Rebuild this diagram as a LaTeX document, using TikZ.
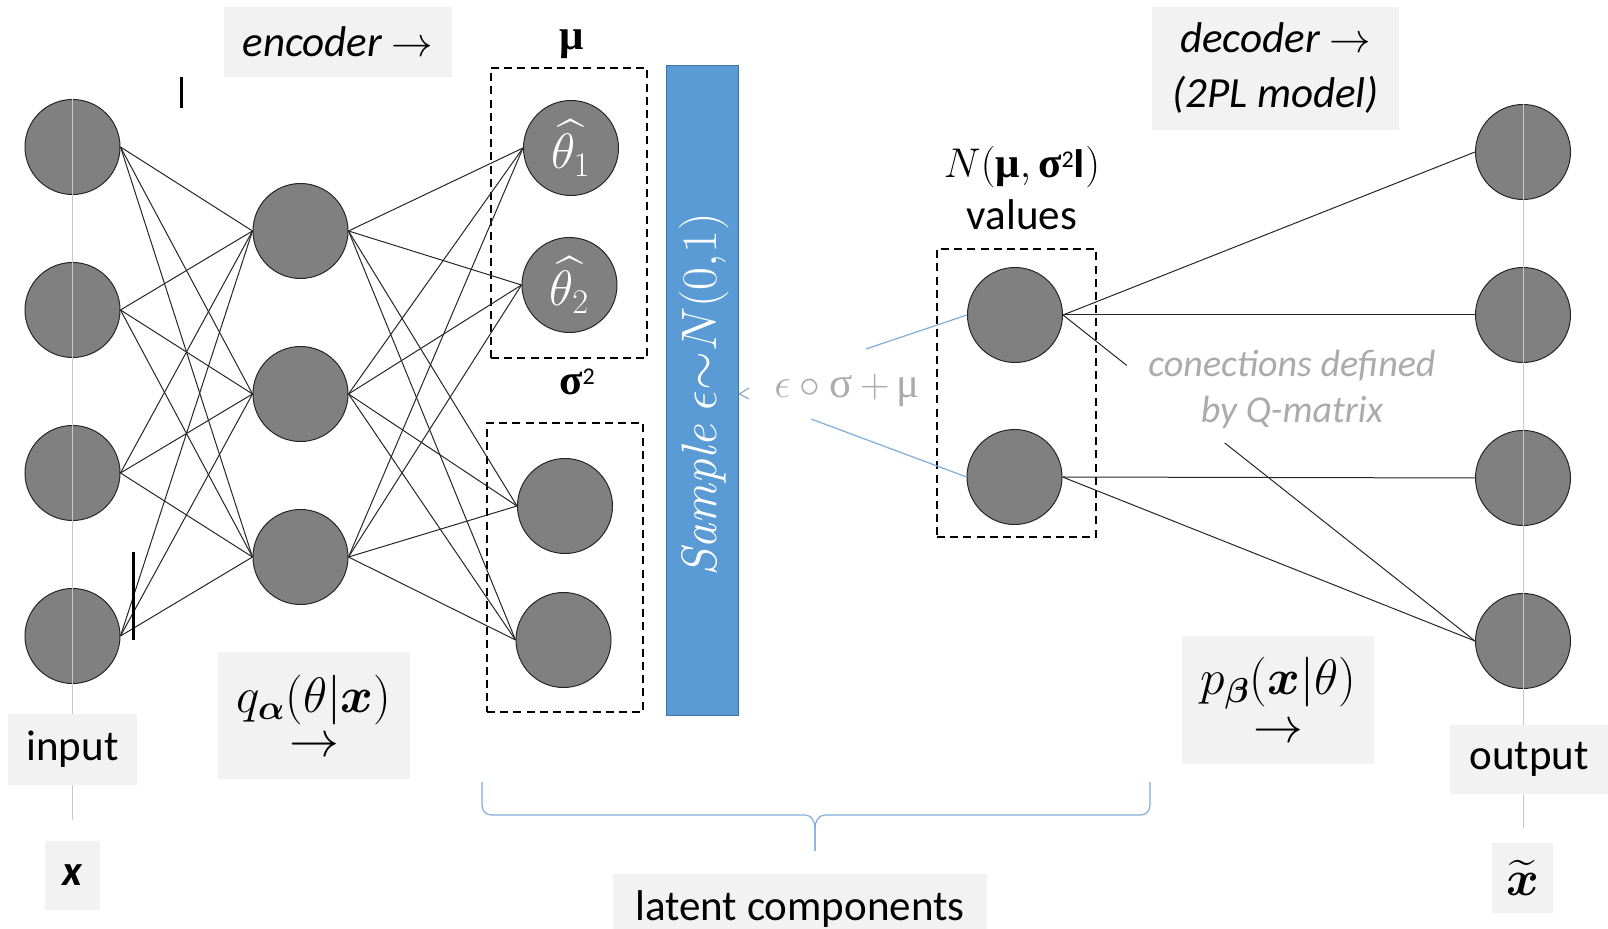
\documentclass[tikz,border=0pt]{standalone}
\usepackage{amsmath,amssymb}
\usepackage[no-math]{fontspec}
\setmainfont{Carlito}
\newfontfamily\symf{Liberation Serif}
\usetikzlibrary{arrows.meta,calc}
\definecolor{nodegray}{HTML}{808080}
\definecolor{boxgray}{HTML}{F2F2F2}
\definecolor{barblue}{HTML}{5B9BD5}
\definecolor{barborder}{HTML}{41719C}
\definecolor{guidecol}{HTML}{C8C8C8}
\definecolor{lblcol}{HTML}{ABABAB}
\definecolor{thinblue}{HTML}{7FAEDC}
\newcommand{\sqsup}{\raisebox{5pt}{\fontsize{12}{12}\selectfont 2}}
\tikzset{
  every node/.style={font=\fontsize{21.5}{26}\selectfont},
  neuron/.style={circle, fill=nodegray, draw=black!85, line width=0.5pt, minimum size=47.5pt, inner sep=0pt},
  link/.style={line width=0.5pt, draw=black!85},
  dbox/.style={draw=black, line width=1pt, dash pattern=on 4pt off 2.6pt, inner sep=0pt},
  lblbox/.style={fill=boxgray, inner sep=0pt, align=center},
  guideline/.style={draw=guidecol, line width=0.5pt},
  bluelink/.style={draw=thinblue, line width=0.6pt},
  marker/.style={line width=1.5pt, draw=black},
}
\begin{document}
\begin{tikzpicture}[x=0.5pt,y=-0.5pt]
\useasboundingbox (0,0) rectangle (1608,929);

% dashed boxes
\node[dbox, minimum width=78pt, minimum height=145pt] (mubox) at (569,213) {};
\node[dbox, minimum width=78pt, minimum height=144.5pt] (sigbox) at (565,567.5) {};
\node[dbox, minimum width=79.5pt, minimum height=144pt] (zbox) at (1016.5,393) {};

% neurons
\foreach \n/\y in {in1/147,in2/310,in3/473,in4/636}
  \node[neuron] (\n) at (72.5,\y) {};
\foreach \n/\y in {h1/231,h2/394,h3/557}
  \node[neuron] (\n) at (300.5,\y) {};
\node[neuron, text=white, font=\fontsize{24}{26}\selectfont] (m1) at (571,148) {$\widehat{\theta_1}$};
\node[neuron, text=white, font=\fontsize{24}{26}\selectfont] (m2) at (569.5,285) {$\widehat{\theta_2}$};
\node[neuron] (s1) at (565,506) {};
\node[neuron] (s2) at (563.5,640) {};
\node[neuron] (z1) at (1015,315) {};
\node[neuron] (z2) at (1014.5,477) {};
\foreach \n/\y in {o1/152,o2/315,o3/478,o4/641}
  \node[neuron] (\n) at (1523,\y) {};

% encoder links
\foreach \a in {in1,in2,in3,in4}
  \foreach \b in {h1,h2,h3}
    \draw[link] (\a.east) -- (\b.west);
\foreach \a in {h1,h2,h3}
  \foreach \b in {m1,m2,s1,s2}
    \draw[link] (\a.east) -- (\b.west);

% decoder links
\draw[link] (z1.east) -- (o1.west);
\draw[link] (z1.east) -- (o2.west);
\draw[link] (z1.east) -- (o4.west);
\draw[link] (z2.east) -- (o3.west);
\draw[link] (z2.east) -- (o4.west);

% guide lines
\coordinate (inend) at (72.5,820);
\coordinate (outend) at (1523,828);
\draw[guideline] (in1.north) -- (inend);
\draw[guideline] (o1.north) -- (outend);

% marks
\draw[marker] (181,77) -- (181,108);
\draw[marker] (133,552) -- (133,640);

% sample bar
\node[fill=barblue, draw=barborder, line width=0.5pt, minimum width=36pt, minimum height=325pt, inner sep=0pt] (bar) at (702,391) {};
\node[rotate=90, text=white, font=\fontsize{24.5}{26}\selectfont] (bartxt) at (704,395) {$\mathit{Sample}\ \epsilon{\sim}N(0{,}1)$};

% reparam label
\node[text=lblcol] (eps) at (847,390) {$\epsilon\circ{}${\symf σ}$\,+\,${\symf μ}};
\coordinate (tipA) at (749,388);
\coordinate (tipB) at (749,399);
\draw[draw=thinblue!70!gray, line width=0.5pt] (tipA) -- ($(bar.east)+(1,3)$) -- (tipB);
\coordinate (bl1) at (866,349);
\coordinate (bl2) at (811,419);
\draw[bluelink] (bl1) -- (z1.west);
\draw[bluelink] (bl2) -- (z2.west);

% headings
\node (mulbl) at (572,44) {{\symf\bfseries μ}};
\node (siglbl) at (577,382) {{\symf\bfseries σ}\sqsup};
\node[align=center, font=\fontsize{21.5}{26}\selectfont] (nlbl) at (1022,188) {$N(${\symf\bfseries μ}$,$\,{\symf\bfseries σ}\sqsup\textbf{I}$)$\\values};

% Q-matrix note
\node[fill=white, text=lblcol, align=center, minimum width=165pt, minimum height=54pt, inner sep=0pt,
      font=\fontsize{19}{23}\selectfont\itshape] (qnote) at (1292,389) {conections defined\\by Q-matrix};

% label boxes
\node[lblbox, minimum width=114pt, minimum height=35pt, font=\fontsize{21.5}{26}\selectfont\itshape] (enc) at (338,42) {encoder $\rightarrow$};
\node[lblbox, minimum width=123.5pt, minimum height=61.5pt, font=\fontsize{21.5}{27.5}\selectfont\itshape] (dec) at (1275.5,68.5) {decoder $\rightarrow$\\(2PL model)};
\node[lblbox, minimum width=64.5pt, minimum height=35.5pt] (inp) at (72.5,749.5) {input};
\node[lblbox, minimum width=27.5pt, minimum height=34.5pt] (xlbl) at (72.5,875.5) {\textbf{\textit{x}}};
\node[lblbox, minimum width=96pt, minimum height=63.5pt, font=\fontsize{24}{22}\selectfont] (qbox) at (314,715.5) {$q_{\boldsymbol{\alpha}}(\theta|\boldsymbol{x})$\\$\rightarrow$};
\node[lblbox, minimum width=96pt, minimum height=64pt, font=\fontsize{24}{24}\selectfont] (pbox) at (1278,700) {$p_{\boldsymbol{\beta}}(\boldsymbol{x}|\theta)$\\$\rightarrow$};
\node[lblbox, minimum width=79pt, minimum height=34.5pt] (outp) at (1529,759.5) {output};
\node[lblbox, minimum width=30.5pt, minimum height=35pt, font=\fontsize{23}{26}\selectfont] (xt) at (1522.5,878) {$\widetilde{\boldsymbol{x}}$};
\node[lblbox, minimum width=187pt, minimum height=35pt] (latent) at (800,909) {latent components};

% brace
\draw[draw=thinblue, line width=0.6pt] (482,782) -- (482,805) to[out=-90,in=180] (491,815) -- (805,815)
  to[out=0,in=90] (815,828) -- (815,851);
\draw[draw=thinblue, line width=0.6pt] (815,851) -- (815,828) to[out=90,in=180] (825,815) -- (1141,815)
  to[out=0,in=-90] (1150,805) -- (1150,782);
\end{tikzpicture}
\end{document}
